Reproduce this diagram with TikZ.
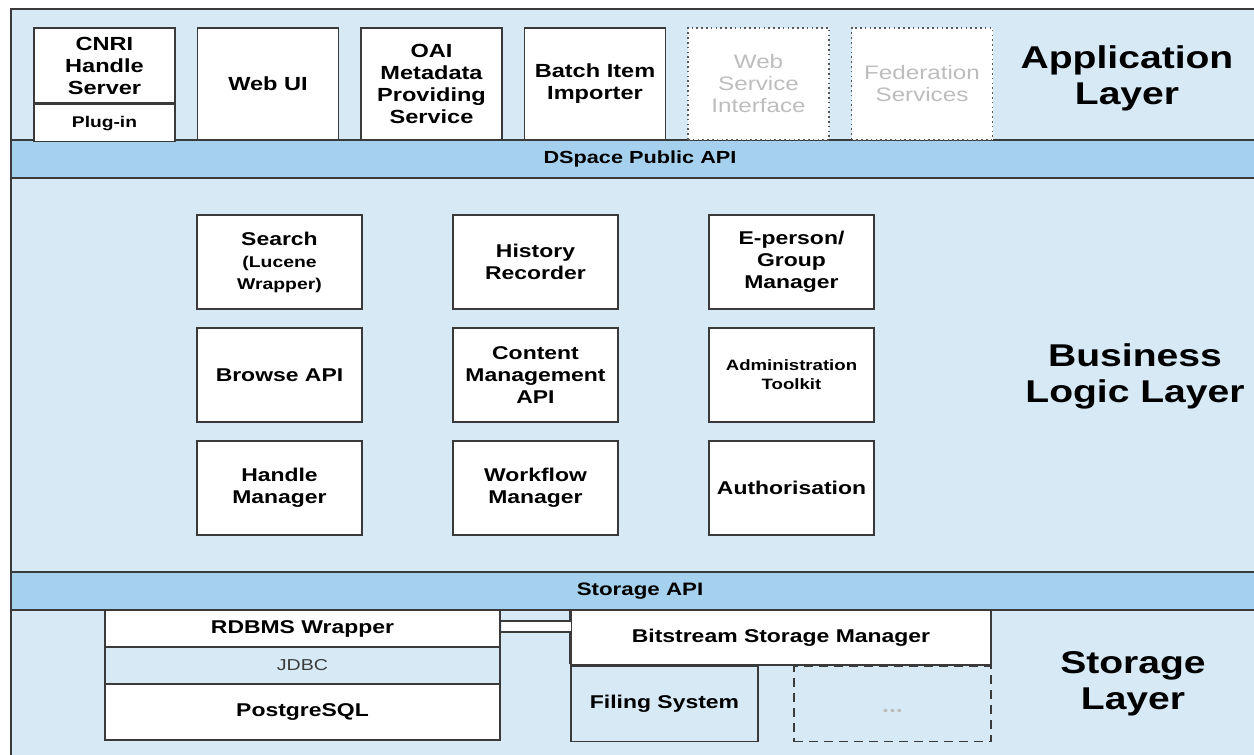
\documentclass[tikz,border=0pt]{standalone}
\usepackage{fontspec}
\setmainfont{Liberation Sans}[FakeStretch=1.24]
\usetikzlibrary{positioning, calc}
\definecolor{layerblue}{HTML}{D6E9F5}
\definecolor{barblue}{HTML}{A5D1EE}
\definecolor{edge}{HTML}{3A3A3A}
\definecolor{faded}{HTML}{BDBDBD}

\begin{document}
\begin{tikzpicture}[x=1pt,y=-1pt,on grid,
  every node/.style={align=center,inner sep=0pt,font=\bfseries\fontsize{18.5}{22}\selectfont},
  comp/.style={draw=edge,line width=1.6pt,fill=white,minimum width=165pt,minimum height=94pt},
  app/.style={comp,minimum width=141pt,minimum height=112pt,font=\bfseries\fontsize{19}{22}\selectfont},
  ghost/.style={app,draw=edge!85,dash pattern=on 1.6pt off 3.2pt,text=faded,font=\fontsize{19.5}{22}\selectfont},
  bar/.style={draw=edge,line width=1.6pt,fill=barblue},
  small/.style={font=\bfseries\fontsize{15.5}{18}\selectfont},
  layername/.style={font=\bfseries\fontsize{31.5}{36}\selectfont}]

  \useasboundingbox (0,0) rectangle (1254,755);
  \clip (0,0) rectangle (1254,755);

  % layers
  \fill[layerblue] (11,9) rectangle (1270,770);
  \draw[edge,line width=1.8pt] (11,770) -- (11,9) -- (1270,9);
  \draw[bar] (11,140) rectangle (1270,178);
  \draw[bar] (11,572) rectangle (1270,610);
  \node[font=\bfseries\fontsize{17.5}{21}\selectfont] (pubapi) at (640,159) {DSpace Public API};
  \node[font=\bfseries\fontsize{18}{21}\selectfont] (storapi) at (640,591) {Storage API};

  % application layer
  \node[app,minimum height=75pt] (cnri) at (104.5,65.5) {CNRI\\Handle\\Server};
  \node[app,small,minimum height=37pt,anchor=north] (plugin) at (cnri.south) {Plug-in};
  \node[app] (webui) at (268,84) {Web UI};
  \node[app] (oai) [right=163.5pt of webui] {OAI\\Metadata\\Providing\\Service};
  \node[app] (batch) [right=163.5pt of oai] {Batch Item\\Importer};
  \node[ghost] (wsi) [right=163.5pt of batch] {Web\\Service\\Interface};
  \node[ghost] (fed) [right=163.5pt of wsi] {Federation\\Services};
  \node[layername] (applayer) at (1127,78) {Application\\Layer};

  % business logic layer
  \node[comp] (search) at (279.5,262) {Search\\{\fontsize{15.6}{19}\selectfont(Lucene}\\{\fontsize{15.6}{19}\selectfont Wrapper)}};
  \node[comp] (history) [right=256pt of search] {History\\Recorder};
  \node[comp] (eperson) [right=256pt of history] {E-person/\\Group\\Manager};
  \node[comp] (browse) [below=113pt of search] {Browse API};
  \node[comp] (content) [below=113pt of history] {Content\\Management\\API};
  \node[comp,font=\bfseries\fontsize{15}{19}\selectfont] (admin) [below=113pt of eperson] {Administration\\Toolkit};
  \node[comp] (handle) [below=113pt of browse] {Handle\\Manager};
  \node[comp] (workflow) [below=113pt of content] {Workflow\\Manager};
  \node[comp] (authz) [below=113pt of admin] {Authorisation};
  \node[layername] (bizlayer) at (1135,376) {Business\\Logic Layer};

  % storage layer
  \node[comp,minimum width=395pt,minimum height=37pt] (rdbms) at (302.5,628.5) {RDBMS Wrapper};
  \node[comp,minimum width=395pt,minimum height=37pt,fill=layerblue,text=edge,
        font=\fontsize{15.8}{19}\selectfont] (jdbc) [below=37pt of rdbms] {JDBC};
  \node[comp,minimum width=395pt,minimum height=56pt] (pgsql) [below=46.5pt of jdbc] {PostgreSQL};
  \node[comp,minimum width=420pt,minimum height=55pt] (bsm) at (781,637.5) {Bitstream Storage Manager};
  \node[comp,minimum width=187pt,minimum height=75pt,fill=layerblue,anchor=north west] (filing) at (bsm.south west) {Filing System};
  \node[comp,minimum width=197pt,minimum height=75pt,fill=layerblue,dash pattern=on 9pt off 6pt,
        text=faded,font=\bfseries\fontsize{20}{22}\selectfont,anchor=north east] (more) at (bsm.south east) {\raisebox{-8pt}[0pt][0pt]{...}};
  \node[layername] (storlayer) at (1133,684) {Storage\\Layer};

  % link between the wrapper and the bitstream manager
  \fill[white] ($(rdbms.north east)+(1,12)$) rectangle ($(bsm.north west)+(1,23)$);
  \draw[edge,line width=1.6pt] ($(rdbms.north east)+(0,12)$) -| (bsm.north west);
  \draw[edge,line width=1.6pt] ($(rdbms.north east)+(0,23)$) -- ($(bsm.north west)+(0,23)$)
    -- ($(bsm.north west)+(0,55)$);
\end{tikzpicture}
\end{document}
